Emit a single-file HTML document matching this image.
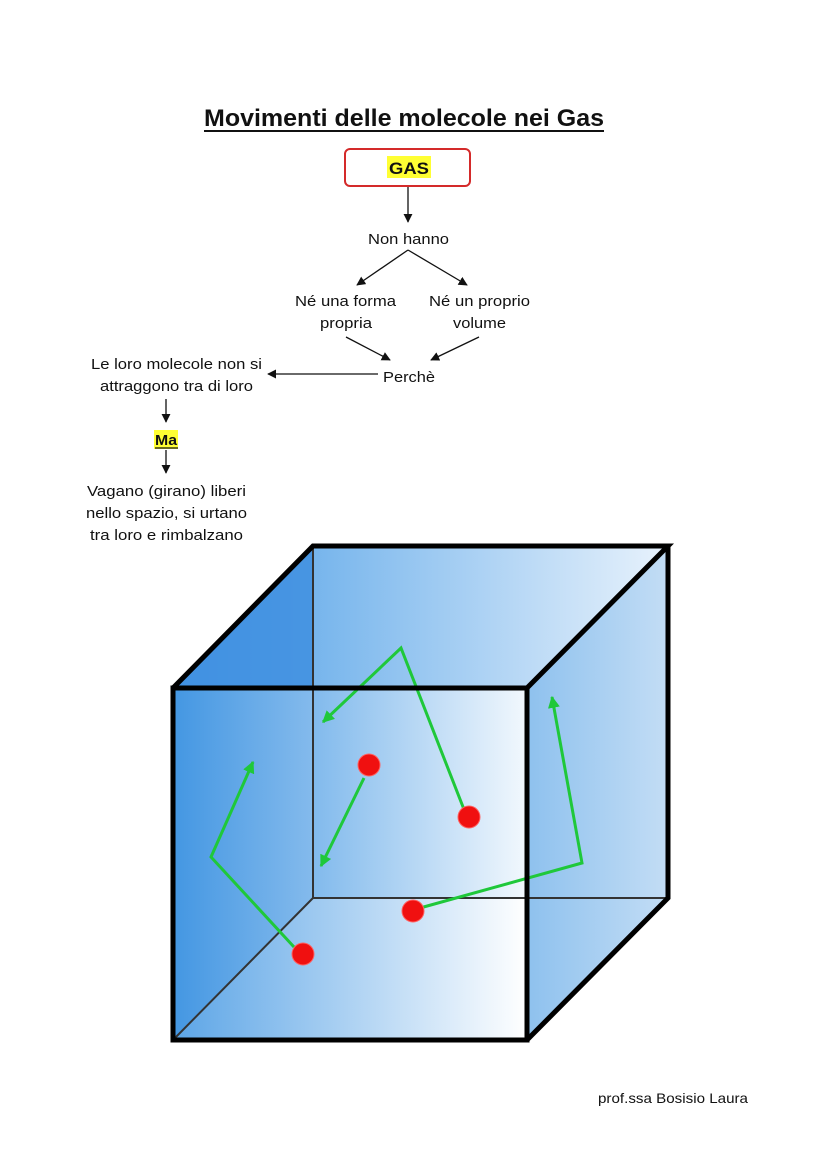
<!DOCTYPE html>
<html><head><meta charset="utf-8"><style>
html,body{margin:0;padding:0;background:#fff}
svg{display:block}
text{font-family:"Liberation Sans",Arial,sans-serif;fill:#111}
</style></head><body>
<svg width="828" height="1171" viewBox="0 0 828 1171">
<defs>
<marker id="a" viewBox="0 0 10 10" refX="9" refY="5" markerWidth="7" markerHeight="7" orient="auto"><path d="M0,0L10,5L0,10z" fill="#111"/></marker>
<marker id="g" viewBox="0 0 10 10" refX="9" refY="5" markerWidth="4" markerHeight="4" orient="auto"><path d="M0,0L10,5L0,10z" fill="#1fc83a"/></marker>
<linearGradient id="bf" x1="0" x2="1"><stop offset="0" stop-color="#3f95e2"/><stop offset="1" stop-color="#ffffff"/></linearGradient>
<linearGradient id="bk" x1="0" x2="1"><stop offset="0" stop-color="#4a9de6"/><stop offset="1" stop-color="#e8f2fc"/></linearGradient>
<linearGradient id="rt" x1="0" x2="1"><stop offset="0" stop-color="#8ec1ee"/><stop offset="1" stop-color="#c3ddf5"/></linearGradient>
</defs>
<text x="204" y="126" font-size="24" font-weight="bold" textLength="400" lengthAdjust="spacingAndGlyphs">Movimenti delle molecole nei Gas</text>
<line x1="204" y1="131" x2="604" y2="131" stroke="#111" stroke-width="2"/>
<rect x="345" y="149" width="125" height="37" rx="5" fill="#fff" stroke="#d42a2a" stroke-width="2"/>
<rect x="387" y="156" width="44" height="22" fill="#ffff33"/>
<text x="389" y="174" font-size="17" font-weight="bold" textLength="40" lengthAdjust="spacingAndGlyphs">GAS</text>
<line x1="408" y1="187" x2="408" y2="222" stroke="#111" stroke-width="1.3" marker-end="url(#a)"/>
<text x="368" y="244" font-size="15" textLength="81" lengthAdjust="spacingAndGlyphs">Non hanno</text>
<line x1="408" y1="250" x2="357" y2="285" stroke="#111" stroke-width="1.3" marker-end="url(#a)"/>
<line x1="408" y1="250" x2="467" y2="285" stroke="#111" stroke-width="1.3" marker-end="url(#a)"/>
<text x="295" y="306" font-size="15" textLength="101" lengthAdjust="spacingAndGlyphs">Né una forma</text>
<text x="320" y="328" font-size="15" textLength="52" lengthAdjust="spacingAndGlyphs">propria</text>
<text x="429" y="306" font-size="15" textLength="101" lengthAdjust="spacingAndGlyphs">Né un proprio</text>
<text x="453" y="328" font-size="15" textLength="53" lengthAdjust="spacingAndGlyphs">volume</text>
<line x1="346" y1="337" x2="390" y2="360" stroke="#111" stroke-width="1.3" marker-end="url(#a)"/>
<line x1="479" y1="337" x2="431" y2="360" stroke="#111" stroke-width="1.3" marker-end="url(#a)"/>
<text x="383" y="382" font-size="15" textLength="52" lengthAdjust="spacingAndGlyphs">Perchè</text>
<line x1="378" y1="374" x2="268" y2="374" stroke="#111" stroke-width="1.3" marker-end="url(#a)"/>
<text x="91" y="369" font-size="15" textLength="171" lengthAdjust="spacingAndGlyphs">Le loro molecole non si</text>
<text x="100" y="391" font-size="15" textLength="153" lengthAdjust="spacingAndGlyphs">attraggono tra di loro</text>
<line x1="166" y1="399" x2="166" y2="422" stroke="#111" stroke-width="1.3" marker-end="url(#a)"/>
<rect x="154" y="430" width="24" height="19" fill="#ffff33"/>
<text x="155" y="445" font-size="15" font-weight="bold" textLength="22" lengthAdjust="spacingAndGlyphs">Ma</text>
<line x1="155" y1="448" x2="178" y2="448" stroke="#111" stroke-width="1.2"/>
<line x1="166" y1="450" x2="166" y2="473" stroke="#111" stroke-width="1.3" marker-end="url(#a)"/>
<text x="87" y="496" font-size="15" textLength="159" lengthAdjust="spacingAndGlyphs">Vagano (girano) liberi</text>
<text x="86" y="518" font-size="15" textLength="161" lengthAdjust="spacingAndGlyphs">nello spazio, si urtano</text>
<text x="90" y="540" font-size="15" textLength="153" lengthAdjust="spacingAndGlyphs">tra loro e rimbalzano</text>
<!-- cube -->
<rect x="313" y="546" width="355" height="352" fill="url(#bk)"/>
<polygon points="173,688 313,546 668,546 527,688" fill="url(#bk)"/>
<polygon points="173,688 313,546 313,898 173,1040" fill="#3f8fe0" opacity="0.85"/>
<polygon points="527,688 668,546 668,898 527,1040" fill="url(#rt)"/>
<rect x="173" y="688" width="354" height="352" fill="url(#bf)" opacity="0.85"/>
<line x1="313" y1="546" x2="313" y2="898" stroke="#333" stroke-width="2"/>
<line x1="313" y1="898" x2="668" y2="898" stroke="#333" stroke-width="2"/>
<line x1="313" y1="898" x2="173" y2="1040" stroke="#333" stroke-width="2"/>
<g stroke="#1fc83a" stroke-width="3" fill="none">
<polyline points="465,812 401,648 323,722" marker-end="url(#g)"/>
<line x1="364" y1="778" x2="321" y2="866" marker-end="url(#g)"/>
<polyline points="294,947 211,857 253,762" marker-end="url(#g)"/>
<polyline points="420,908 582,863 552,697" marker-end="url(#g)"/>
</g>
<g fill="#f01010" stroke="#ff6060" stroke-width="1">
<circle cx="369" cy="765" r="11"/><circle cx="469" cy="817" r="11"/>
<circle cx="413" cy="911" r="11"/><circle cx="303" cy="954" r="11"/>
</g>
<g stroke="#000" stroke-width="5" fill="none" stroke-linejoin="miter">
<rect x="173" y="688" width="354" height="352"/>
<polyline points="173,688 313,546 668,546 527,688"/>
<polyline points="668,546 668,898 527,1040"/>
</g>
<text x="598" y="1103" font-size="14" textLength="150" lengthAdjust="spacingAndGlyphs">prof.ssa Bosisio Laura</text>
</svg>
</body></html>
